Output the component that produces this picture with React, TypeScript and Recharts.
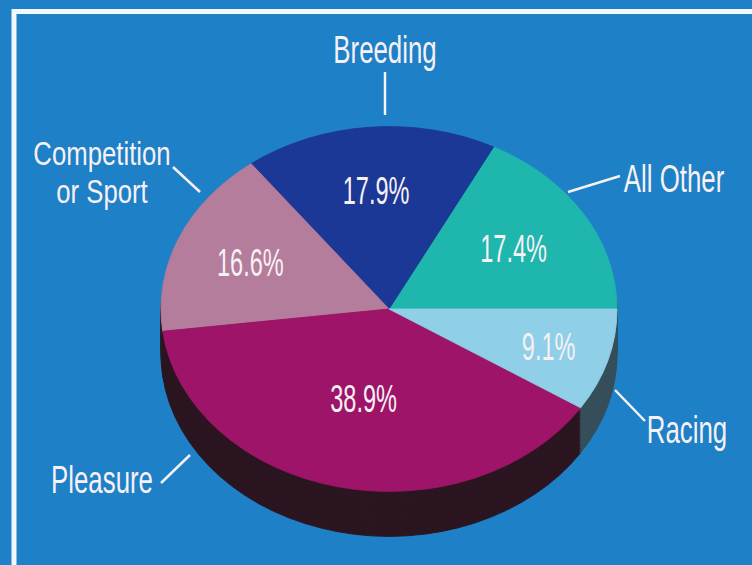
import React from "react";
import { PieChart, Pie, Cell } from "recharts";

// data, counter-clockwise from 3 o'clock
const CATEGORIES = ["All Other", "Breeding", "Competition or Sport", "Pleasure", "Racing"];
const SHARES = [17.4, 17.9, 16.6, 38.9, 9.1];

const TOP_COLORS = ["#1fb6ae", "#1c3897", "#b47d9c", "#9e1468", "#8fcfe7"];
const SIDE_COLORS = ["#0f4f50", "#101a48", "#2a1a24", "#2a1520", "#364f5a"];

// how far out each percentage sits (fraction of radius)
const LABEL_RADIUS: Record<string, number> = {
  "All Other": 0.64,
  Breeding: 0.655,
  "Competition or Sport": 0.66,
  Pleasure: 0.5,
  Racing: 0.73,
};

const BG = "#1e80c6";
const TEXT = "#f7f0f5";
const FONT = "'Liberation Sans', Arial, sans-serif";
const FONT_SIZE = 38;
const TEXT_SX = 0.62; // condensed look

const W = 752;
const H = 565;
const SQUASH = 0.8; // vertical tilt of the pie
const CX = 384;
const CY = 305 / SQUASH;
const R = 228;
const DEPTH = 45 / SQUASH;
const LAYERS = 18;

const data = CATEGORIES.map((name, i) => ({ name, value: SHARES[i] }));
const offsets = Array.from({ length: LAYERS }, (_, i) => DEPTH * (1 - i / LAYERS));

const renderPct = (props: any) => {
  const { cx, cy, midAngle, outerRadius, value, name } = props;
  const f = LABEL_RADIUS[name] ?? 0.65;
  const a = (midAngle * Math.PI) / 180;
  const x = cx + outerRadius * f * Math.cos(a);
  const y = cy - outerRadius * f * Math.sin(a);
  return (
    <text
      transform={`translate(${x},${y}) scale(${TEXT_SX},${1 / SQUASH})`}
      textAnchor="middle"
      dy={13.6}
      fill={TEXT}
      fontFamily={FONT}
      fontSize={FONT_SIZE}
    >
      {`${Number(value).toFixed(1)}%`}
    </text>
  );
};

// outer name labels with their leader lines
const NAME_LABELS = [
  { lines: ["Breeding"], x: 385, y: 63, size: 38, sx: 0.68, line: [385, 72, 385, 115] },
  { lines: ["Competition", "or Sport"], x: 102, y: 165, size: 33, sx: 0.78, line: [173, 167, 200, 192] },
  { lines: ["All Other"], x: 674, y: 192, size: 38, sx: 0.68, line: [568, 192, 620, 176] },
  { lines: ["Racing"], x: 687, y: 443, size: 38, sx: 0.68, line: [615, 390, 645, 421] },
  { lines: ["Pleasure"], x: 102, y: 493, size: 38, sx: 0.68, line: [161, 483, 190, 455] },
];

export default function App() {
  return (
    <div
      style={{
        position: "fixed",
        left: 0,
        top: 0,
        width: W,
        height: H,
        overflow: "hidden",
        background: BG,
      }}
    >
      <svg width={W} height={H} style={{ position: "absolute", left: 0, top: 0 }}>
        <rect x={14} y={11.5} width={W + 20} height={H + 20} fill="none" stroke="#f3f6fa" strokeWidth={5} />
      </svg>
      <div
        style={{
          position: "absolute",
          left: 0,
          top: 0,
          transform: `scaleY(${SQUASH})`,
          transformOrigin: "0 0",
        }}
      >
        <PieChart width={W} height={Math.ceil(H / SQUASH) + 10}>
          {/* extruded side, stacked from the bottom up */}
          {offsets.map((off, li) => (
            <Pie
              key={`side-${li}`}
              data={data}
              dataKey="value"
              nameKey="name"
              cx={CX}
              cy={CY + off}
              outerRadius={R}
              startAngle={0}
              endAngle={360}
              isAnimationActive={false}
              labelLine={false}
            >
              {data.map((d, i) => (
                <Cell key={d.name} fill={SIDE_COLORS[i]} stroke={SIDE_COLORS[i]} strokeWidth={1} />
              ))}
            </Pie>
          ))}
          {/* top face */}
          <Pie
            data={data}
            dataKey="value"
            nameKey="name"
            cx={CX}
            cy={CY}
            outerRadius={R}
            startAngle={0}
            endAngle={360}
            isAnimationActive={false}
            labelLine={false}
            label={renderPct}
          >
            {data.map((d, i) => (
              <Cell key={d.name} fill={TOP_COLORS[i]} stroke={TOP_COLORS[i]} strokeWidth={1} />
            ))}
          </Pie>
        </PieChart>
      </div>
      <svg width={W} height={H} style={{ position: "absolute", left: 0, top: 0 }}>
        {NAME_LABELS.map((l) => (
          <g key={l.lines[0]}>
            <line
              x1={l.line[0]}
              y1={l.line[1]}
              x2={l.line[2]}
              y2={l.line[3]}
              stroke={TEXT}
              strokeWidth={2.5}
            />
            {l.lines.map((t, k) => (
              <text
                key={t}
                transform={`translate(${l.x},${l.y + k * 38}) scale(${l.sx},1)`}
                textAnchor="middle"
                fill={TEXT}
                fontFamily={FONT}
                fontSize={l.size}
              >
                {t}
              </text>
            ))}
          </g>
        ))}
      </svg>
    </div>
  );
}
